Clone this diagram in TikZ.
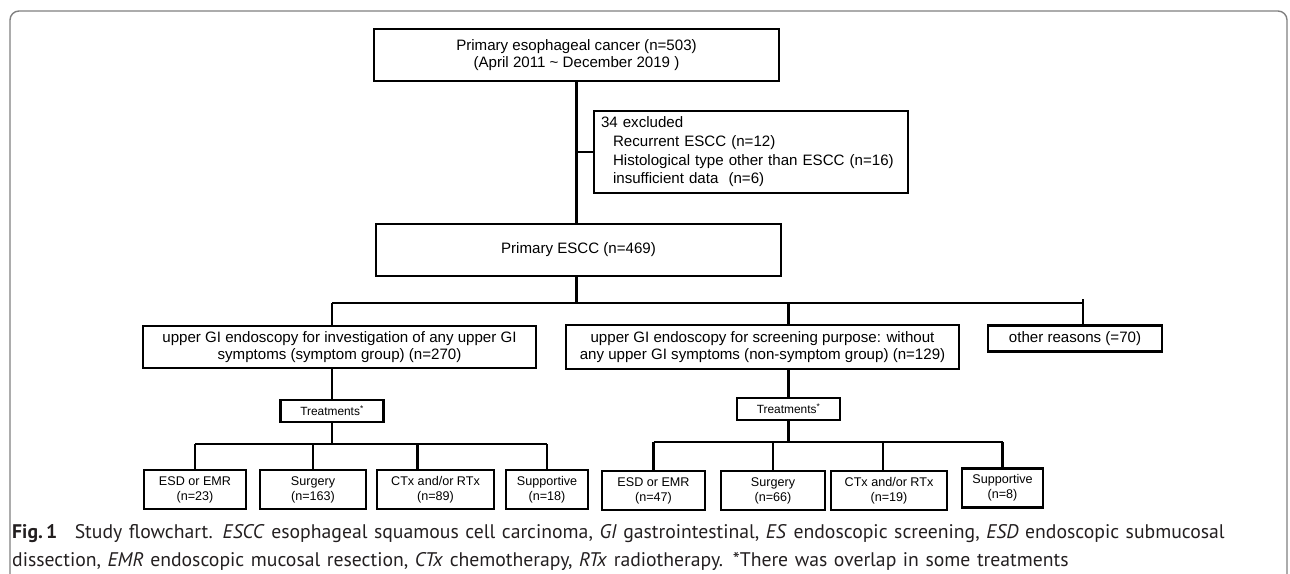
\documentclass[tikz,border=0pt]{standalone}
\usepackage{fontspec}
\setmainfont{Liberation Sans}
\newfontfamily\capfont{PT Sans}
\usetikzlibrary{positioning,calc}
\definecolor{framegray}{HTML}{808080}
\definecolor{captext}{HTML}{231F20}
\tikzset{
  box/.style      = {draw, line width=2.4pt, align=center, inner sep=0pt,
                     font=\fontsize{15.1}{17.4}\selectfont},
  treatbox/.style = {box, minimum width=103pt, minimum height=22pt,
                     font=\fontsize{11.9}{13.5}\selectfont},
  armbox/.style   = {box, minimum height=39pt, font=\fontsize{12.6}{15}\selectfont},
  wire/.style     = {line width=2.3pt},
  frame/.style    = {draw=framegray, line width=1.4pt, rounded corners=9pt},
  caption/.style  = {text=captext, align=left, text width=1270pt, inner sep=0pt,
                     font=\capfont\fontsize{19.7}{28}\selectfont},
}

\begin{document}
\begin{tikzpicture}[x=1pt,y=-1pt]
  \useasboundingbox (0,0) rectangle (1290,573);
  \draw[frame] (10,620) -- (10,11) -- (1287,11) -- (1287,620);

  % cohort
  \node[box, minimum width=405pt, minimum height=52pt] (all) at (576.5,55)
    {Primary esophageal cancer (n=503)\\(April 2011 \textasciitilde{} December 2019 )};
  \node[box, minimum width=314pt, minimum height=82pt, text width=300pt, align=left,
        font=\fontsize{15.1}{18.7}\selectfont] (excl) at (751,152)
    {34 excluded\\
     \hspace*{12pt}Recurrent ESCC (n=12)\\
     \hspace*{12pt}Histological type other than ESCC (n=16)\\
     \hspace*{12pt}insufficient data\ \ (n=6)};
  \node[box, minimum width=405pt, minimum height=52pt] (escc) at (578.5,250)
    {Primary ESCC (n=469)};

  % groups
  \node[box, minimum width=393pt, minimum height=42pt] (sym) at (339.5,347)
    {upper GI endoscopy for investigation of any upper GI\\symptoms (symptom group) (n=270)};
  \node[box, minimum width=393pt, minimum height=44pt] (nonsym) at (762.5,347)
    {upper GI endoscopy for screening purpose: without\\any upper GI symptoms (non-symptom group) (n=129)};
  \node[box, minimum width=174pt, minimum height=26pt] (other) at (1075,338.5)
    {other reasons (=70)};

  \node[treatbox] (treatL) at (332,411) {Treatments\textsuperscript{*}};
  \node[treatbox] (treatR) at (788.5,409) {Treatments\textsuperscript{*}};

  % treatments, symptom group
  \node[armbox, minimum width=102pt] (esdL)  at (195,489.5)   {ESD or EMR\\(n=23)};
  \node[armbox, minimum width=106pt] (surgL) at (313,489.5)   {Surgery\\(n=163)};
  \node[armbox, minimum width=117pt] (ctxL)  at (435.5,489.5) {CTx and/or RTx\\(n=89)};
  \node[armbox, minimum width=82pt]  (suppL) at (547,489.5)   {Supportive\\(n=18)};
  % treatments, non-symptom group
  \node[armbox, minimum width=103pt] (esdR)  at (653.5,490.5) {ESD or EMR\\(n=47)};
  \node[armbox, minimum width=104pt] (surgR) at (773,490.5)   {Surgery\\(n=66)};
  \node[armbox, minimum width=116pt] (ctxR)  at (889,490.5)   {CTx and/or RTx\\(n=19)};
  \node[armbox, minimum width=81pt]  (suppR) at (1002.5,488)  {Supportive\\(n=8)};

  \coordinate (busL) at (332,303);
  \coordinate (busR) at (1083,303);
  \coordinate (subL) at (0,444);
  \coordinate (subR) at (0,442);
  \coordinate (ctxLtap) at ([xshift=-18pt]ctxL.north);
  \coordinate (ctxRtap) at ([xshift=-6pt]ctxR.north);

  \draw[wire] (all.south) -- (all.south |- escc.north);
  \draw[wire] (all.south |- excl.west) -- (excl.west);
  \draw[wire] (escc.south -| all.south) -- (all.south |- busL);
  \draw[wire] (busL) -- (busR);
  \draw[wire] (busL) -- (busL |- sym.north);
  \draw[wire] (treatR |- busL) -- (treatR |- nonsym.north);
  \draw[wire] ([yshift=4pt]busR) -- (busR |- other.north);

  \draw[wire] (treatL |- sym.south) -- (treatL.north);
  \draw[wire] (treatR |- nonsym.south) -- (treatR.north);
  \draw[wire] (treatL.south) -- (treatL |- subL);
  \draw[wire] (treatR.south) -- (treatR |- subR);
  \draw[wire] (esdL |- subL) -- (suppL |- subL);
  \draw[wire] (esdR |- subR) -- (suppR |- subR);
  \foreach \n in {esdL,surgL,ctxLtap,suppL}
    \draw[wire] (\n |- subL) -- (\n |- esdL.north);
  \foreach \n in {esdR,surgR,ctxRtap}
    \draw[wire] (\n |- subR) -- (\n |- esdR.north);
  \draw[wire] (suppR |- subR) -- (suppR.north);

  \node[caption, anchor=base west] (cap) at (12,538)
    {\textbf{Fig.\,1}\hspace{0.55em} Study flowchart. \textit{ESCC} esophageal squamous cell carcinoma, \textit{GI} gastrointestinal, \textit{ES} endoscopic screening, \textit{ESD} endoscopic submucosal\\
     dissection, \textit{EMR} endoscopic mucosal resection, \textit{CTx} chemotherapy, \textit{RTx} radiotherapy. *There was overlap in some treatments};
\end{tikzpicture}
\end{document}
